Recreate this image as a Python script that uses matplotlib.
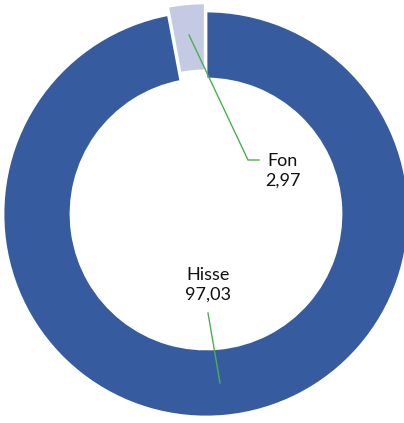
import matplotlib
matplotlib.use("Agg")
import matplotlib.pyplot as plt

categories = ["Hisse", "Fon"]
values = [97.03, 2.97]
value_labels = ["97,03", "2,97"]
colors = ["#365C9F", "#C4CAE3"]

W, H = 404, 423
cx, cy, R = 206, 214, 203

def px(x, y):
    return ((x - cx) / R, (cy - y) / R)

fig = plt.figure(figsize=(W / 100, H / 100), dpi=100)
ax = fig.add_axes([0, 0, 1, 1])

ax.pie(values, colors=colors, startangle=90, counterclock=False,
       explode=[0, 0.04], radius=1.0,
       wedgeprops=dict(width=0.335, edgecolor="white", linewidth=2))

ax.set_xlim(-cx / R, (W - cx) / R)
ax.set_ylim(-(H - cy) / R, cy / R)
ax.set_aspect("equal")
ax.axis("off")

font = dict(family=["Lato", "DejaVu Sans"], fontsize=13, color="#111111")
green = "#4CAF50"

# Fon label and leader
ax.plot(*zip(px(189, 35), px(248, 160), px(259, 160)), color=green, lw=1)
ax.text(*px(283, 171), f"{categories[1]}\n{value_labels[1]}", ha="center", va="center",
        linespacing=1.25, **font)

# Hisse label and leader
ax.plot(*zip(px(208, 313), px(220, 383)), color=green, lw=1)
ax.text(*px(208, 285), f"{categories[0]}\n{value_labels[0]}", ha="center", va="center",
        linespacing=1.25, **font)

fig.savefig("out.png", dpi=100)
